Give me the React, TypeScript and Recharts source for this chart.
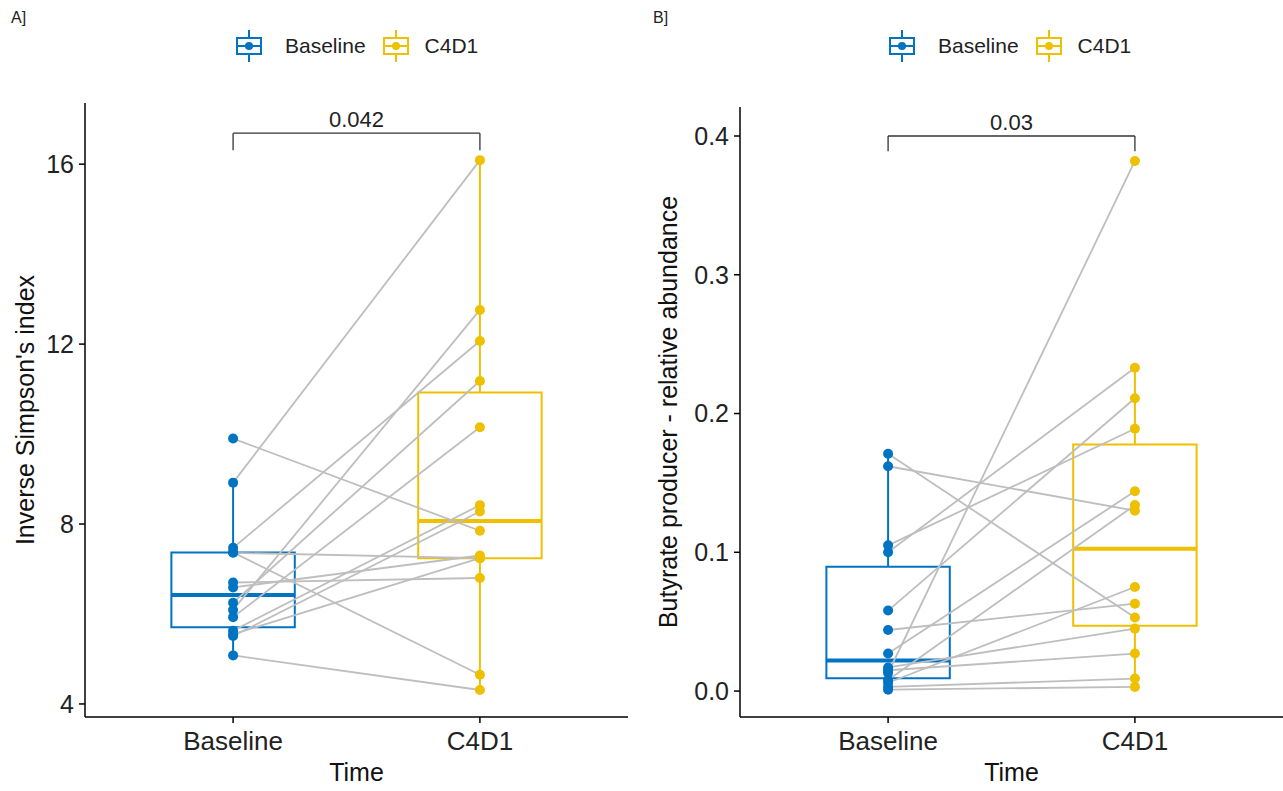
import React from "react";
import { ComposedChart, Scatter, XAxis, YAxis, ReferenceArea, ReferenceLine } from "recharts";

const BLUE = "#0073C2";
const GOLD = "#EFC000";
const PAIR_GREY = "#BEBEBE";
const FONT = "'Liberation Sans', Arial, sans-serif";

const timeLabels = ["Baseline", "C4D1"];

// A] inverse Simpson's index, same patient at the same position in both arrays
const simpsonBaseline = [9.9, 8.92, 7.47, 7.37, 7.36, 6.7, 6.59, 6.25, 6.09, 5.93, 5.63, 5.55, 5.51, 5.08];
const simpsonC4D1 = [7.85, 16.09, 12.07, 4.65, 7.24, 6.8, 7.3, 11.18, 12.76, 10.15, 8.42, 7.24, 8.28, 4.31];
const simpsonTicks = [4, 8, 12, 16];

// B] butyrate producers, relative abundance
const butyrateBaseline = [0.171, 0.162, 0.105, 0.1, 0.058, 0.044, 0.027, 0.017, 0.015, 0.013, 0.008, 0.006, 0.003, 0.001];
const butyrateC4D1 = [0.053, 0.13, 0.189, 0.233, 0.211, 0.063, 0.144, 0.045, 0.027, 0.382, 0.134, 0.075, 0.009, 0.003];
const butyrateTicks = [0, 0.1, 0.2, 0.3, 0.4];

const pValues = ["0.042", "0.03"];

function quantile(sorted: number[], p: number) {
  const pos = (sorted.length - 1) * p;
  const lo = Math.floor(pos);
  const hi = Math.ceil(pos);
  return sorted[lo] + (sorted[hi] - sorted[lo]) * (pos - lo);
}

// ggplot style box: hinges at quartiles, whiskers to last point inside 1.5 IQR
function boxStats(values: number[]) {
  const s = [...values].sort((a, b) => a - b);
  const q1 = quantile(s, 0.25);
  const med = quantile(s, 0.5);
  const q3 = quantile(s, 0.75);
  const iqr = q3 - q1;
  const lo = s.find((v) => v >= q1 - 1.5 * iqr) as number;
  const hi = [...s].reverse().find((v) => v <= q3 + 1.5 * iqr) as number;
  return { q1, med, q3, lo, hi };
}

function renderBox(key: string, x: number, values: number[], color: string) {
  const b = boxStats(values);
  const w = 0.25;
  return [
    <ReferenceLine key={key + "-wl"} segment={[{ x, y: b.lo }, { x, y: b.q1 }]} stroke={color} strokeWidth={2} />,
    <ReferenceLine key={key + "-wh"} segment={[{ x, y: b.q3 }, { x, y: b.hi }]} stroke={color} strokeWidth={2} />,
    <ReferenceArea key={key + "-box"} x1={x - w} x2={x + w} y1={b.q1} y2={b.q3} fill="none" fillOpacity={0} stroke={color} strokeWidth={2} strokeOpacity={1} />,
    <ReferenceLine key={key + "-med"} segment={[{ x: x - w, y: b.med }, { x: x + w, y: b.med }]} stroke={color} strokeWidth={4} />,
  ];
}

const noShape = () => <g />;
const dot = (color: string) => (props: any) => <circle cx={props.cx} cy={props.cy} r={5} fill={color} />;

interface PanelProps {
  baseline: number[];
  c4d1: number[];
  domain: [number, number];
  ticks: number[];
  yLabel: string;
  yLabelOffset: number;
  bracketY: number;
  tipY: number;
  pValue: string;
  width: number;
  top: number;
  right: number;
  yAxisWidth: number;
  fmt: (v: number) => string;
}

function Panel(p: PanelProps) {
  const basePts = p.baseline.map((y) => ({ x: 1, y }));
  const endPts = p.c4d1.map((y) => ({ x: 2, y }));
  return (
    <ComposedChart width={p.width} height={791} margin={{ top: p.top, right: p.right, left: 0, bottom: 0 }}>
      <XAxis
        type="number"
        dataKey="x"
        domain={[0.4, 2.6]}
        ticks={[1, 2]}
        allowDataOverflow
        tickFormatter={(v: number) => timeLabels[v - 1]}
        height={74}
        stroke="#000"
        strokeWidth={1.5}
        tickSize={6}
        tickMargin={9}
        tick={{ fontSize: 26, fill: "#222", fontFamily: FONT }}
        label={{ value: "Time", position: "insideBottom", offset: 10, fontSize: 25, fill: "#111", fontFamily: FONT }}
      />
      <YAxis
        type="number"
        dataKey="y"
        domain={p.domain}
        ticks={p.ticks}
        allowDataOverflow
        width={p.yAxisWidth}
        stroke="#000"
        strokeWidth={1.5}
        tickSize={6}
        tickMargin={5}
        tickFormatter={p.fmt}
        tick={{ fontSize: 25, fill: "#222", fontFamily: FONT }}
        label={{
          value: p.yLabel,
          angle: -90,
          position: "insideLeft",
          offset: p.yLabelOffset,
          fontSize: 25,
          fill: "#111",
          fontFamily: FONT,
          style: { textAnchor: "middle" },
        }}
      />
      {p.baseline.map((b, i) => (
        <Scatter
          key={"pair" + i}
          data={[{ x: 1, y: b }, { x: 2, y: p.c4d1[i] }]}
          line={{ stroke: PAIR_GREY, strokeWidth: 1.8 }}
          shape={noShape}
          isAnimationActive={false}
        />
      ))}
      {renderBox("b", 1, p.baseline, BLUE)}
      {renderBox("c", 2, p.c4d1, GOLD)}
      <Scatter data={basePts} fill={BLUE} shape={dot(BLUE)} isAnimationActive={false} />
      <Scatter data={endPts} fill={GOLD} shape={dot(GOLD)} isAnimationActive={false} />
      <ReferenceLine
        segment={[{ x: 1, y: p.bracketY }, { x: 2, y: p.bracketY }]}
        stroke="#333"
        strokeWidth={1.3}
        label={{ value: p.pValue, position: "top", offset: 6, fontSize: 22, fill: "#222", fontFamily: FONT }}
      />
      <ReferenceLine segment={[{ x: 1, y: p.bracketY }, { x: 1, y: p.tipY }]} stroke="#333" strokeWidth={1.3} />
      <ReferenceLine segment={[{ x: 2, y: p.bracketY }, { x: 2, y: p.tipY }]} stroke="#333" strokeWidth={1.3} />
    </ComposedChart>
  );
}

function LegendKey({ color }: { color: string }) {
  return (
    <svg width={28} height={32} style={{ display: "block" }}>
      <line x1={14} y1={0} x2={14} y2={8} stroke={color} strokeWidth={2} />
      <line x1={14} y1={24} x2={14} y2={32} stroke={color} strokeWidth={2} />
      <rect x={2} y={8} width={24} height={16} fill="none" stroke={color} strokeWidth={2} />
      <line x1={2} y1={16} x2={26} y2={16} stroke={color} strokeWidth={2} />
      <circle cx={14} cy={16} r={4} fill={color} />
    </svg>
  );
}

function Legend({ left }: { left: number }) {
  const text = { fontSize: 21, color: "#222", fontFamily: FONT };
  return (
    <div style={{ position: "absolute", left, top: 30, display: "flex", alignItems: "center", gap: 0 }}>
      <LegendKey color={BLUE} />
      <span style={{ ...text, marginLeft: 22, marginRight: 16 }}>{timeLabels[0]}</span>
      <LegendKey color={GOLD} />
      <span style={{ ...text, marginLeft: 15 }}>{timeLabels[1]}</span>
    </div>
  );
}

export default function App() {
  return (
    <div style={{ position: "absolute", left: 0, top: 0, width: 1283, height: 791, background: "#fff", overflow: "hidden", fontFamily: FONT }}>
      <div style={{ position: "absolute", left: 11, top: 9, fontSize: 16, color: "#222" }}>A]</div>
      <div style={{ position: "absolute", left: 653, top: 9, fontSize: 16, color: "#222" }}>B]</div>
      <Legend left={235} />
      <Legend left={888} />
      <div style={{ position: "absolute", left: 0, top: 0 }}>
        <Panel
          baseline={simpsonBaseline}
          c4d1={simpsonC4D1}
          domain={[3.71, 17.36]}
          ticks={simpsonTicks}
          yLabel="Inverse Simpson's index"
          yLabelOffset={25}
          bracketY={16.69}
          tipY={16.31}
          pValue={pValues[0]}
          width={640}
          top={103}
          right={12}
          yAxisWidth={85}
          fmt={(v) => String(v)}
        />
      </div>
      <div style={{ position: "absolute", left: 640, top: 0 }}>
        <Panel
          baseline={butyrateBaseline}
          c4d1={butyrateC4D1}
          domain={[-0.0187, 0.4209]}
          ticks={butyrateTicks}
          yLabel="Butyrate producer - relative abundance"
          yLabelOffset={28}
          bracketY={0.4}
          tipY={0.389}
          pValue={pValues[1]}
          width={643}
          top={107}
          right={0}
          yAxisWidth={100}
          fmt={(v) => v.toFixed(1)}
        />
      </div>
    </div>
  );
}
